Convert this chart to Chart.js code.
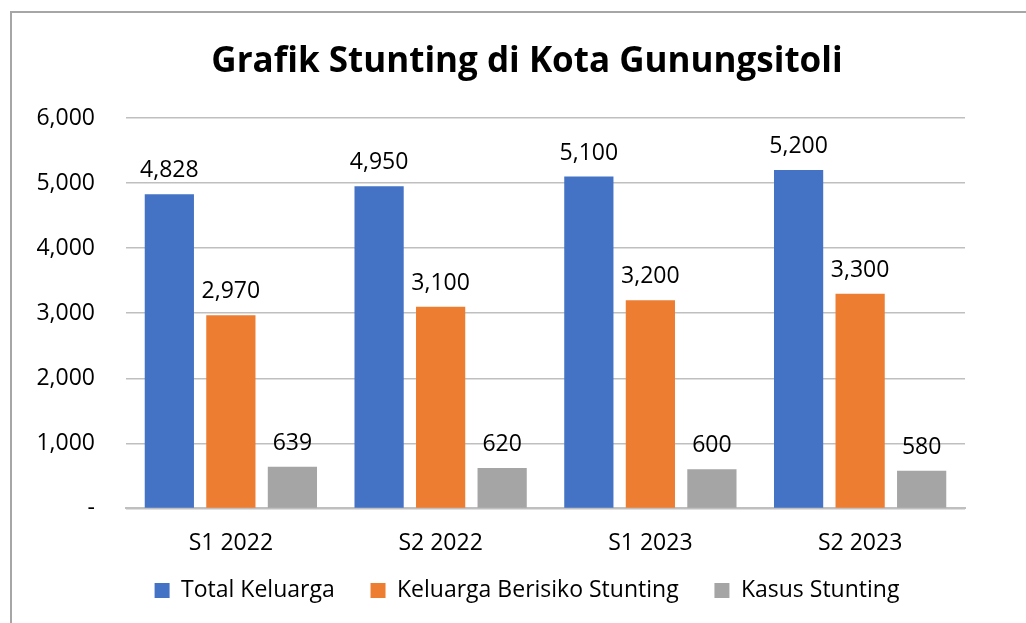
<!DOCTYPE html>
<html>
<head>
<meta charset="utf-8">
<script src="https://cdn.jsdelivr.net/npm/chart.js@4.4.1/dist/chart.umd.min.js"></script>
<style>
    html, body { margin: 0; padding: 0; background: #fff; overflow: hidden; }
    #frame {
        position: absolute; left: 10px; top: 11px;
        width: 1040px; height: 630px;
        border-left: 2px solid #a6a6a6; border-top: 2px solid #a6a6a6;
    }
    #box { position: absolute; left: 0; top: 0; width: 1030px; height: 610px; }
</style>
</head>
<body>
<div id="frame"><div id="box"><canvas id="stuntingChart"></canvas></div></div>
<script>
const periods = ['S1 2022', 'S2 2022', 'S1 2023', 'S2 2023'];
const totalKeluarga = [4828, 4950, 5100, 5200];
const keluargaBerisiko = [2970, 3100, 3200, 3300];
const kasusStunting = [639, 620, 600, 580];
const yTicks = [0, 1000, 2000, 3000, 4000, 5000, 6000];

const fontFamily = '"Open Sans", "Noto Sans", sans-serif';

function fmt(v) {
    return v === 0 ? '-' : v.toLocaleString('en-US');
}

// draw the value above each bar
const valueLabels = {
    id: 'valueLabels',
    afterDatasetsDraw(chart) {
        const ctx = chart.ctx;
        ctx.save();
        ctx.font = '23px ' + fontFamily;
        ctx.fillStyle = '#000';
        ctx.textAlign = 'center';
        ctx.textBaseline = 'alphabetic';
        chart.data.datasets.forEach((ds, i) => {
            chart.getDatasetMeta(i).data.forEach((bar, j) => {
                ctx.fillText(fmt(ds.data[j]), bar.x, bar.y - 17);
            });
        });
        ctx.restore();
    }
};

var ctx = document.getElementById('stuntingChart');
new Chart(ctx, {
    type: 'bar',
    data: {
        labels: periods,
        datasets: [
            { label: 'Total Keluarga', data: totalKeluarga, backgroundColor: '#4472C4' },
            { label: 'Keluarga Berisiko Stunting', data: keluargaBerisiko, backgroundColor: '#ED7D31' },
            { label: 'Kasus Stunting', data: kasusStunting, backgroundColor: '#A5A5A5' }
        ]
    },
    options: {
        responsive: true,
        maintainAspectRatio: false,
        animation: false,
        datasets: {
            bar: { categoryPercentage: 0.88, barPercentage: 0.8 }
        },
        layout: { padding: { left: 0, right: 0, top: 0, bottom: 11 } },
        plugins: {
            title: {
                display: true,
                text: 'Grafik Stunting di Kota Gunungsitoli',
                color: '#000',
                font: { family: fontFamily, size: 35, weight: 'bold' },
                padding: { top: 28, bottom: 35 }
            },
            legend: {
                position: 'bottom',
                labels: {
                    color: '#000',
                    font: { family: fontFamily, size: 23 },
                    boxWidth: 15,
                    boxHeight: 15,
                    padding: 9,
                    // wider gaps between the legend items
                    generateLabels: function (chart) {
                        const items = Chart.defaults.plugins.legend.labels.generateLabels(chart);
                        items.forEach((it, i) => {
                            if (i < items.length - 1) it.text += '\u2003\u2009';
                        });
                        return items;
                    }
                }
            },
            tooltip: { enabled: false }
        },
        scales: {
            x: {
                grid: { display: false },
                border: { color: '#bfbfbf', width: 2 },
                ticks: {
                    color: '#000',
                    font: { family: fontFamily, size: 23 },
                    padding: 13
                }
            },
            y: {
                min: 0,
                max: 6000,
                afterFit: function (scale) { scale.width = 114; },
                afterBuildTicks: function (scale) {
                    scale.ticks = yTicks.map(v => ({ value: v }));
                },
                grid: { color: '#bfbfbf', lineWidth: 1.5, drawTicks: false },
                border: { display: false },
                ticks: {
                    color: '#000',
                    font: { family: fontFamily, size: 23 },
                    padding: 31,
                    callback: function (v) { return fmt(v); }
                }
            },
            // empty right-hand margin, keeps the title centred on the whole box
            margin: {
                type: 'linear',
                position: 'right',
                afterFit: function (scale) { scale.width = 77; },
                grid: { display: false },
                border: { display: false },
                ticks: { display: false }
            }
        }
    },
    plugins: [valueLabels]
});
</script>
</body>
</html>
